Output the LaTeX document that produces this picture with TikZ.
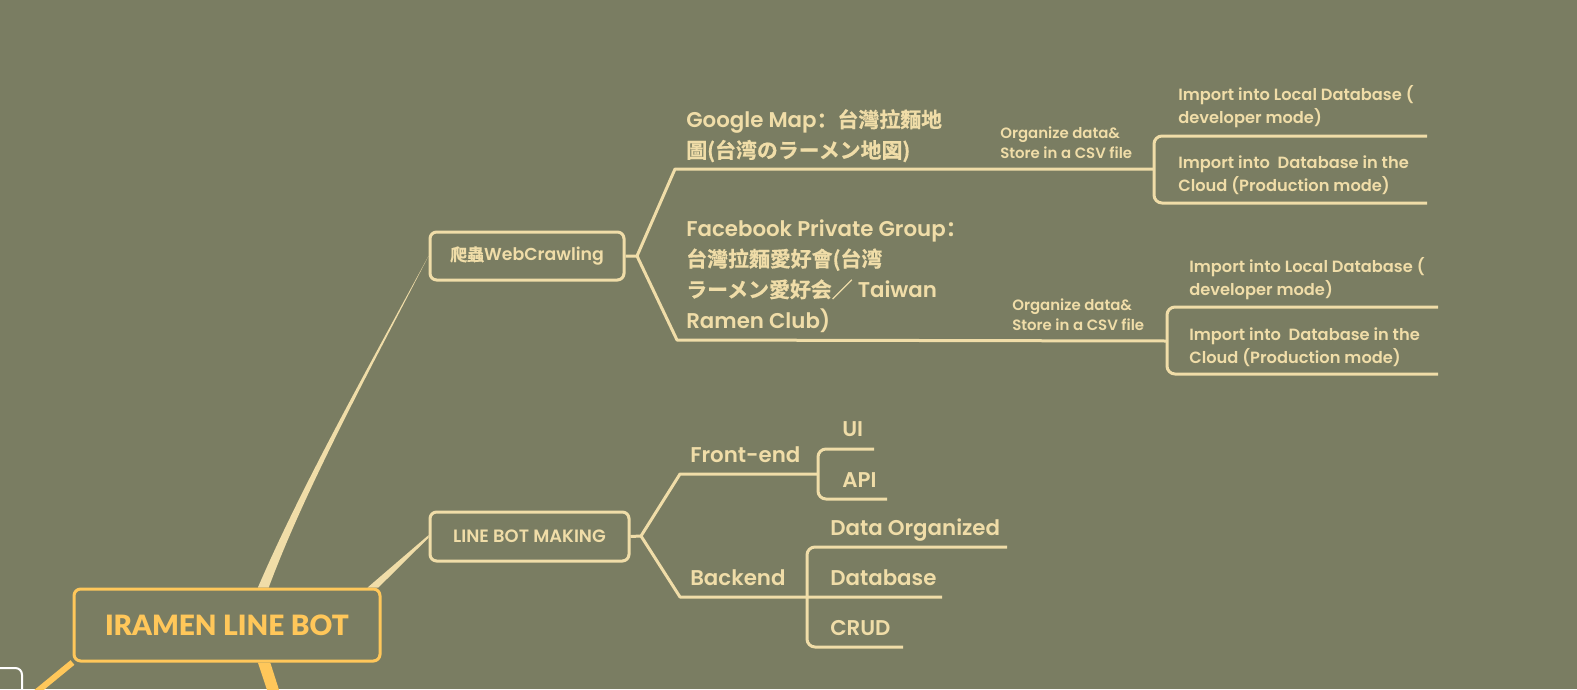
\documentclass[tikz,border=0pt]{standalone}
\usepackage{fontspec}
\setmainfont{Poppins}[UprightFont={* SemiBold},BoldFont={* Bold}]
\newfontfamily\heavyfont{Lato Black}
\newfontfamily\cjk{Noto Sans CJK SC}[UprightFont={* Bold},Scale=0.98,FakeBold=0.6]
\usetikzlibrary{calc,backgrounds}
\definecolor{bgcol}{RGB}{122,125,98}
\definecolor{cream}{RGB}{240,221,168}
\definecolor{rootcol}{RGB}{255,199,90}
\begin{document}
\begin{tikzpicture}[x=0.75pt,y=-0.75pt,
  box/.style={draw=cream,line width=2.25pt,rounded corners=5pt,text=cream,inner sep=0pt,
    font=\fontsize{13pt}{16pt}\selectfont},
  rootbox/.style={box,draw=rootcol,text=rootcol,font=\heavyfont\fontsize{21pt}{24pt}\selectfont},
  leaf/.style={text=cream,anchor=base west,align=left,inner sep=0pt},
  big/.style={leaf,font=\fontsize{16pt}{23pt}\selectfont},
  mid/.style={leaf,font=\fontsize{12.2pt}{17.25pt}\selectfont},
  small/.style={leaf,font=\fontsize{11.2pt}{15pt}\selectfont},
  branch/.style={draw=cream,line width=2.25pt,line join=round},
  bracket/.style={branch,rounded corners=6pt}]
\useasboundingbox (0,0) rectangle (1577,689);
\node[rootbox,minimum width=229.5pt,minimum height=54pt] (root) at (227,625) {IRAMEN LINE BOT};
\node[box,minimum width=145.5pt,minimum height=36pt] (crawl) at (527,256) {{\cjk 爬蟲}WebCrawling};
\node[box,minimum width=149.25pt,minimum height=36.75pt,font=\fontsize{13.4pt}{16pt}\selectfont] (make) at (529.5,536.5) {LINE BOT MAKING};
\node[draw=white,line width=1.5pt,rounded corners=5pt,minimum width=75pt,minimum height=75pt,anchor=north east] (side) at (23,667) {};
\node[big] (gmap) at (686,158) {Google Map{\cjk ：台灣拉麵地}\\{\cjk 圖(台湾のラーメン地図)}};
\node[big] (fbgroup) at (686,328) {Facebook Private Group{\cjk ：}\\{\cjk 台灣拉麵愛好會(台湾}\\{\cjk ラーメン愛好会／} Taiwan\\Ramen Club)};
\node[small] (csv1) at (1000,158) {Organize data\&\\Store in a CSV file};
\node[small] (csv2) at (1012,330) {Organize data\&\\Store in a CSV file};
\node[mid] (local1) at (1178,123) {Import into Local Database (\\developer mode)};
\node[mid] (cloud1) at (1178,191) {Import into\ \ Database in the\\Cloud (Production mode)};
\node[mid] (local2) at (1189,295) {Import into Local Database (\\developer mode)};
\node[mid] (cloud2) at (1189,363) {Import into\ \ Database in the\\Cloud (Production mode)};
\node[big] (front) at (690,462) {Front-end};
\node[big] (back) at (690,585) {Backend};
\node[big] (ui) at (842,436) {UI};
\node[big] (api) at (842,487) {API};
\node[big] (dataorg) at (830,535) {Data Organized};
\node[big] (db) at (830,585) {Database};
\node[big] (crud) at (830,635) {CRUD};
\coordinate (cw) at (637,256);
\coordinate (gm) at (675,169);
\coordinate (gmj) at (1154,169);
\coordinate (fb) at (677,340);
\coordinate (fbj) at (1167,341);
\coordinate (mk) at (641,536);
\coordinate (fe) at (680,474);
\coordinate (fej) at (818,474);
\coordinate (be) at (680,597);
\coordinate (bej) at (807,597);
\coordinate (down) at (289,740);
\coordinate (downleft) at (0,722);
\begin{scope}[on background layer]
\fill[bgcol] (0,0) rectangle (1577,689);
\fill[cream] ($(root.north west)!.6!(root.north east)$) .. controls (302,485) and (370,364) .. (crawl.west)
  .. controls (372,366) and (306,487) .. ($(root.north west)!.635!(root.north east)$) -- cycle;
\fill[cream] ($(root.north west)!.955!(root.north east)$) -- ([yshift=1pt]make.west) -- ([yshift=-1pt]make.west)
  -- ($(root.north west)!.99!(root.north east)$) -- cycle;
\fill[rootcol] ($(root.south west)!.6!(root.south east)$) -- ($(root.south west)!.64!(root.south east)$)
  -- ([xshift=4.5pt]down) -- ([xshift=-4pt]down) -- cycle;
\draw[rootcol,line width=4.5pt] (root.south west) -- (downleft);
\draw[branch] (crawl.east) -- (cw) -- (gm) -- (gmj);
\draw[branch] (cw) -- (fb) -- (fbj);
\draw[bracket] (gmj) ++(273,-33) -- ++(-273,0) -- ++(0,67) -- ++(273,0);
\draw[bracket] (fbj) ++(271,-34) -- ++(-271,0) -- ++(0,67) -- ++(271,0);
\draw[branch] (make.east) -- (mk) -- (fe) -- (fej);
\draw[branch] (mk) -- (be) -- (bej) -- ++(135,0);
\draw[bracket] (fej) ++(56,-25) -- ++(-56,0) -- ++(0,50) -- ++(69,0);
\draw[bracket] (bej) ++(200,-50) -- ++(-200,0) -- ++(0,100) -- ++(96,0);
\end{scope}
\end{tikzpicture}
\end{document}
